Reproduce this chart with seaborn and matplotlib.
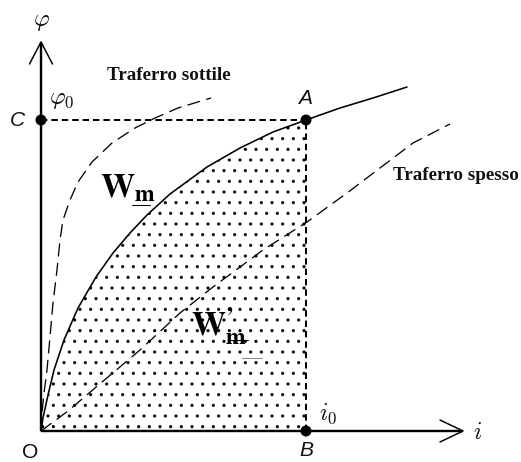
import matplotlib
matplotlib.use("Agg")
import matplotlib.pyplot as plt
import pandas as pd
import seaborn as sns

# Magnetisation curves: flux linkage phi against current i (arbitrary units)
core_i = [0, 2, 7, 13, 23, 37, 55, 72, 89, 106, 129, 166, 199, 232, 265, 299, 332, 366]
core_phi = [0, 13, 36, 61, 91, 123, 154, 178, 198, 216, 237, 264, 283, 299, 311, 323, 333, 344]

thin_gap_i = [0, 1, 3, 6, 9, 12, 16, 19, 22, 29, 37, 51, 71, 94, 114, 137, 170]
thin_gap_phi = [0, 18, 38, 61, 94, 128, 161, 191, 211, 231, 249, 269, 288, 303, 313, 323, 333]

thick_gap_i = [0, 27, 54, 99, 139, 172, 222, 266, 306, 339, 372, 409]
thick_gap_phi = [0, 20, 43, 81, 118, 144, 181, 209, 238, 263, 288, 307]

# Operating point A = (i0, phi0)
i0 = 265
phi0 = 311
point_names = ["C", "A", "B"]
point_i = [0, i0, i0]
point_phi = [phi0, phi0, 0]

# Axis extents (arrow tips)
i_axis_end = 422
phi_axis_end = 389

DPI = 64
W_PX, H_PX = 521, 462


def pt(px):
    return px * 72.0 / DPI


sns.set_theme(style="white")
plt.rcParams["font.family"] = ["DejaVu Sans"]

fig = plt.figure(figsize=(W_PX / DPI, H_PX / DPI), dpi=DPI)
ax = fig.add_axes([0, 0, 1, 1])
ax.set_xlim(-41, 480)
ax.set_ylim(-31, 431)
ax.set_axis_off()

core = pd.DataFrame({"i": core_i, "phi": core_phi})
thin = pd.DataFrame({"i": thin_gap_i, "phi": thin_gap_phi})
thick = pd.DataFrame({"i": thick_gap_i, "phi": thick_gap_phi})
pts = pd.DataFrame({"name": point_names, "i": point_i, "phi": point_phi})

# Stored magnetic energy region under the core curve, up to i0
under = core[core["i"] <= i0]
plt.rcParams["hatch.linewidth"] = pt(1.0)
ax.fill_between(under["i"], under["phi"], 0, facecolor="none",
                edgecolor="black", hatch=".", linewidth=0, zorder=1)

# Curves
sns.lineplot(data=core, x="i", y="phi", ax=ax, color="black", lw=pt(1.6),
             sort=False, estimator=None, zorder=3)
sns.lineplot(data=thin, x="i", y="phi", ax=ax, color="black", lw=pt(1.3),
             sort=False, estimator=None, zorder=3, linestyle=(0, (10, 5)))
sns.lineplot(data=thick, x="i", y="phi", ax=ax, color="black", lw=pt(1.3),
             sort=False, estimator=None, zorder=3, linestyle=(0, (10, 5)))

# Projection lines from A
ax.plot([0, i0], [phi0, phi0], color="black", lw=pt(2.0),
        linestyle=(0, (3.2, 2.0)), zorder=4)
ax.plot([i0, i0], [0, phi0], color="black", lw=pt(2.0),
        linestyle=(0, (3.2, 2.0)), zorder=4)

# Axes with open arrow heads
ax.plot([0, 0], [0, phi_axis_end], color="black", lw=pt(2.4), zorder=5,
        solid_capstyle="butt")
ax.plot([0, i_axis_end], [0, 0], color="black", lw=pt(2.4), zorder=5,
        solid_capstyle="butt")
ax.plot([-11.5, 0, 11.5], [phi_axis_end - 22, phi_axis_end, phi_axis_end - 22],
        color="black", lw=pt(1.5), zorder=5)
ax.plot([i_axis_end - 23, i_axis_end, i_axis_end - 23], [11, 0, -11],
        color="black", lw=pt(1.5), zorder=5)

# Marked points
sns.scatterplot(data=pts, x="i", y="phi", ax=ax, color="black", s=pt(11) ** 2,
                edgecolor="none", zorder=6, legend=False)

ink = "#111111"
# Math symbols
ax.text(0, 410, r"$\varphi$", fontsize=pt(24), ha="center", va="center",
        math_fontfamily="cm", color=ink)
ax.text(21, 332, r"$\varphi_0$", fontsize=pt(24), ha="center", va="center",
        math_fontfamily="cm", color=ink)
ax.text(287, 17, r"$i_0$", fontsize=pt(24), ha="center", va="center",
        math_fontfamily="cm", color=ink)
ax.text(437, -1, r"$i$", fontsize=pt(24), ha="center", va="center",
        math_fontfamily="cm", color=ink)

# Point letters
sans = ["Liberation Sans", "DejaVu Sans"]
for name, x, y in [("C", -24, 311), ("A", 264, 333), ("B", 265, -20)]:
    ax.text(x, y, name, fontsize=pt(21), ha="center", va="center",
            family=sans, style="italic", color=ink)
ax.text(-11, -21, "O", fontsize=pt(21), ha="center", va="center",
        family=sans, color=ink)

# Curve captions
serif = ["Liberation Serif", "DejaVu Serif"]
ax.text(128, 356, "Traferro sottile", fontsize=pt(19), ha="center", va="center",
        family=serif, fontweight="bold", color=ink)
ax.text(352, 256, "Traferro spesso", fontsize=pt(19), ha="left", va="center",
        family=serif, fontweight="bold", color=ink)

# Energy labels
ax.text(59, 234, r"$\mathbf{W}_{\mathbf{m}}$", fontsize=pt(34), ha="left",
        va="baseline", math_fontfamily="stix", color="black")
ax.text(150, 95, "$\\mathbf{W}^{\\mathbf{\u2019}}_{\\mathbf{m}}$", fontsize=pt(34),
        ha="left", va="baseline", math_fontfamily="stix", color="black")
# underlined subscripts
ax.plot([91, 109], [226, 226], color="black", lw=pt(1.0), zorder=6)
ax.plot([187, 207], [91, 91], color="black", lw=pt(1.0), zorder=6)
ax.plot([201, 221], [73, 73], color="#888888", lw=pt(1.0), zorder=6)

fig.savefig("out.png", dpi=DPI)
